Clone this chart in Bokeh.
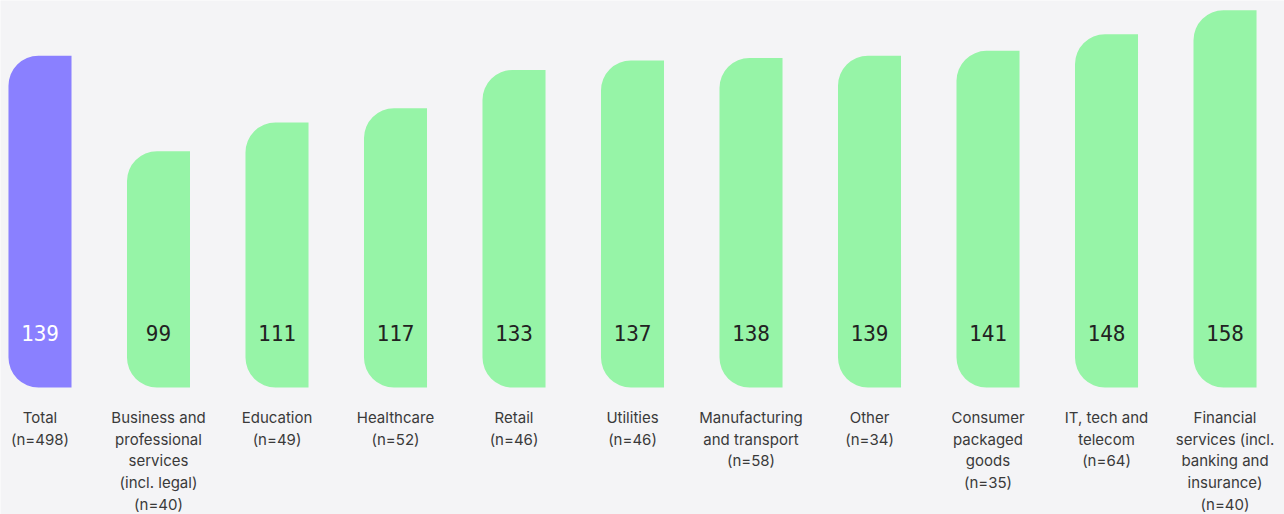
from bokeh.plotting import figure
from bokeh.models import Range1d, ColumnDataSource
from bokeh.core.properties import value
from bokeh.embed import file_html
from bokeh.resources import INLINE

categories = ["Total\n(n=498)", "Business and\nprofessional\nservices\n(incl. legal)\n(n=40)",
              "Education\n(n=49)", "Healthcare\n(n=52)", "Retail\n(n=46)", "Utilities\n(n=46)",
              "Manufacturing\nand transport\n(n=58)", "Other\n(n=34)", "Consumer\npackaged\ngoods\n(n=35)",
              "IT, tech and\ntelecom\n(n=64)", "Financial\nservices (incl.\nbanking and\ninsurance)\n(n=40)"]
values = [139, 99, 111, 117, 133, 137, 138, 139, 141, 148, 158]

PURPLE = "#8A80FF"
GREEN = "#96F4A7"
BG = "#F4F4F6"

xs = list(range(len(values)))
colors = [PURPLE] + [GREEN] * (len(values) - 1)
label_colors = ["#FFFFFF"] + ["#222222"] * (len(values) - 1)

src = ColumnDataSource(dict(x=xs, top=values, color=colors, lab=[str(v) for v in values],
                            lc=label_colors, cat=categories,
                            ly=[23.0] * len(values), cy=[-8.6] * len(values)))

p = figure(width=1284, height=514, output_backend="svg", toolbar_location=None,
           x_range=Range1d(-0.3333, 10.502), y_range=Range1d(-53.2, 162.1),
           min_border=0, background_fill_color=BG, border_fill_color=BG, outline_line_color=None)
p.axis.visible = False
p.grid.visible = False

p.vbar(x="x", top="top", bottom=0, width=0.532, fill_color="color", line_color=None,
       border_radius=(30, 0, 0, 30), source=src)

p.text(x="x", y="ly", text="lab", text_color="lc", text_align="center", text_baseline="middle",
       text_font=value("DejaVu Sans Mono"), text_font_size="21px", source=src)

p.text(x="x", y="cy", text="cat", text_color="#3A3A3A", text_align="center", text_baseline="top",
       text_font=value("Inter"), text_font_size="15px", text_line_height=1.14, source=src)

open("out.html", "w").write(file_html(p, INLINE))
